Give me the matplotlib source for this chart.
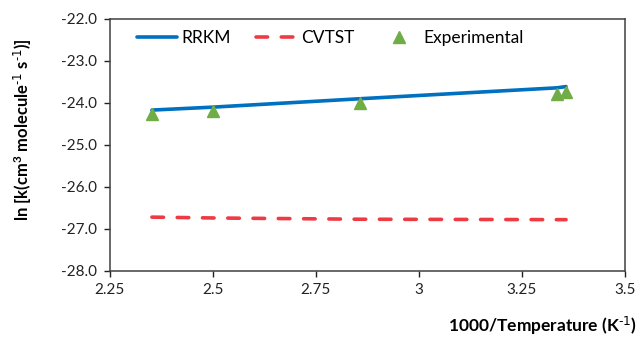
import matplotlib
matplotlib.use("Agg")
import matplotlib.pyplot as plt
import numpy as np

plt.rcParams['font.family'] = ['Lato', 'DejaVu Sans']
plt.rcParams['mathtext.default'] = 'regular'

# 1000/T values (K^-1)
inv_temp = [2.352, 2.500, 2.857, 3.335, 3.357]
# ln k values
rrkm = [-24.17, -24.10, -23.90, -23.64, -23.61]
cvtst = [-26.72, -26.74, -26.77, -26.78, -26.78]
experimental = [-24.27, -24.19, -24.01, -23.78, -23.75]

x_ticks = [2.25, 2.5, 2.75, 3, 3.25, 3.5]
x_ticklabels = ['2.25', '2.5', '2.75', '3', '3.25', '3.5']
y_ticks = [-28, -27, -26, -25, -24, -23, -22]

fig = plt.figure(figsize=(6.39, 3.39), dpi=100)
ax = fig.add_axes([0.172, 0.201, 0.806, 0.743])

ax.plot(inv_temp, rrkm, color='#0070C0', lw=2.6, label='RRKM', solid_capstyle='round')
ax.plot(inv_temp, cvtst, color='#EE3B43', lw=2.6, ls=(0, (3.2, 3.8)), label='CVTST',
        dash_capstyle='round')
ax.plot(inv_temp, experimental, ls='none', marker='^', ms=9, color='#70AD47',
        label='Experimental')

ax.set_xlim(2.25, 3.5)
ax.set_ylim(-28, -22)
ax.set_xticks(x_ticks)
ax.set_xticklabels(x_ticklabels)
ax.set_yticks(y_ticks)
ax.set_yticklabels(['%.1f' % v for v in y_ticks])
ax.tick_params(direction='out', length=4, width=1, colors='#222222', labelsize=11, pad=5)

for s in ax.spines.values():
    s.set_color('#404040')
    s.set_linewidth(1.1)

# axis titles (hyphen in the exponents, like the original)
fig.text(0.036, 0.617, r'ln [k(cm$^3$ molecule$^{\text{-1}}$ s$^{\text{-1}}$)]', rotation=90,
         ha='center', va='center', fontsize=12, fontweight='bold')
fig.text(0.997, 0.04, r'1000/Temperature (K$^{\text{-1}}$)', ha='right', va='center',
         fontsize=12.5, fontweight='bold')

ax.legend(loc='center left', ncol=3, frameon=False, fontsize=12.5, handlelength=2.35,
          handletextpad=0.25, columnspacing=1.4, borderpad=0, borderaxespad=0,
          bbox_to_anchor=(0.052, 0.925))

fig.savefig('out.png', dpi=100)
